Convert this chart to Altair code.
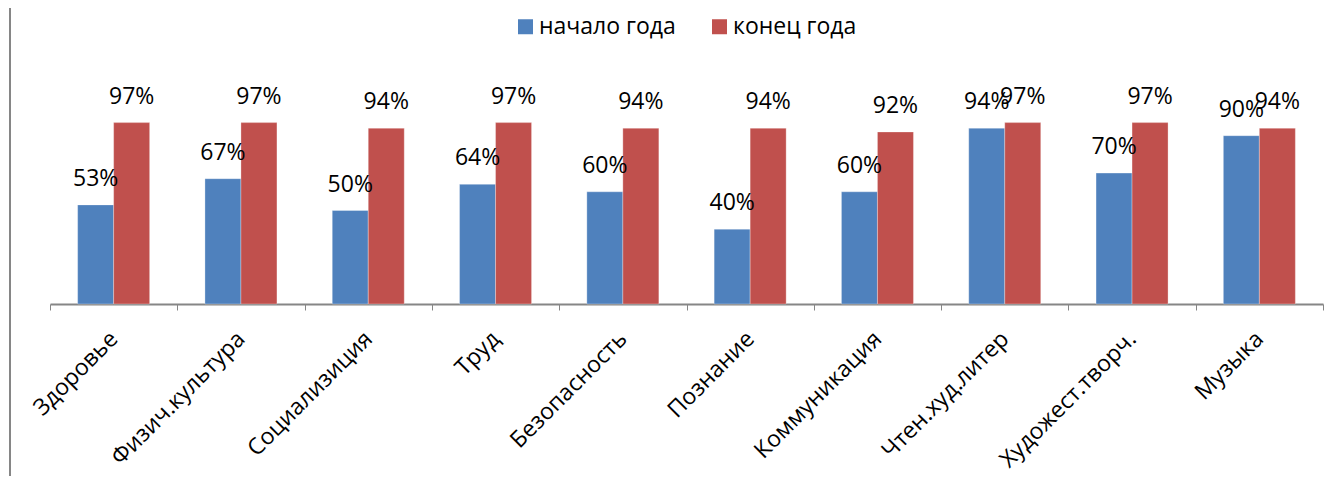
import altair as alt
import pandas as pd

categories = ["Здоровье", "Физич.культура", "Социализиция", "Труд", "Безопасность",
              "Познание", "Коммуникация", "Чтен.худ.литер", "Художест.творч.", "Музыка"]
start_vals = [0.53, 0.67, 0.50, 0.64, 0.60, 0.40, 0.60, 0.94, 0.70, 0.90]
end_vals = [0.97, 0.97, 0.94, 0.97, 0.94, 0.94, 0.92, 0.97, 0.97, 0.94]
series = ["начало года", "конец года"]
colors = ["#4F81BD", "#C0504D"]

rows = []
for c, s, e in zip(categories, start_vals, end_vals):
    rows.append({"cat": c, "series": series[0], "val": s})
    rows.append({"cat": c, "series": series[1], "val": e})
df = pd.DataFrame(rows)

FONT = "Open Sans"
W, H = 1273, 187

x = alt.X("cat:N", sort=categories, title=None,
          scale=alt.Scale(paddingInner=0, paddingOuter=0),
          axis=alt.Axis(labelAngle=-45, labelAlign="right", labelBaseline="middle",
                        labelFontSize=23, labelFont=FONT, labelColor="#000000",
                        labelPadding=25, labelLimit=0, tickBand="extent", tickSize=6,
                        tickColor="#868686", domainColor="#868686", domainWidth=2,
                        labelOverlap=False, labelBound=False))
xo = alt.XOffset("series:N", sort=series,
                 scale=alt.Scale(paddingInner=0, paddingOuter=0.768))
y = alt.Y("val:Q", scale=alt.Scale(domain=[0, 1]), axis=None)
color = alt.Color("series:N", sort=series,
                  scale=alt.Scale(domain=series, range=colors),
                  legend=alt.Legend(title=None, orient="none", direction="horizontal",
                                    columns=2, legendX=464, legendY=-102,
                                    symbolType="square", symbolSize=225,
                                    symbolStrokeWidth=0, labelFontSize=23,
                                    labelFont=FONT, labelColor="#000000", labelLimit=0,
                                    labelOffset=2, columnPadding=32, padding=0))

base = alt.Chart(df).encode(x=x, xOffset=xo, y=y)
bars = base.mark_bar(stroke="#ffffff", strokeWidth=0.6, strokeOpacity=0.5).encode(color=color)
labels = base.mark_text(dy=-26, fontSize=23, font=FONT, color="#000000").encode(
    text=alt.Text("val:Q", format=".0%"))

border = alt.Chart(pd.DataFrame({"a": [0]})).mark_rule(color="#868686", strokeWidth=2).encode(
    x=alt.value(-40), y=alt.value(-120), y2=alt.value(H + 190))

chart = alt.layer(bars, labels, border).properties(
    width=W, height=H,
    autosize=alt.AutoSizeParams(type="none"),
    padding={"left": 42, "top": 109, "right": 12, "bottom": 172},
).configure_view(stroke=None)

chart.save("out.html", embed_options={"renderer": "svg", "actions": False})
